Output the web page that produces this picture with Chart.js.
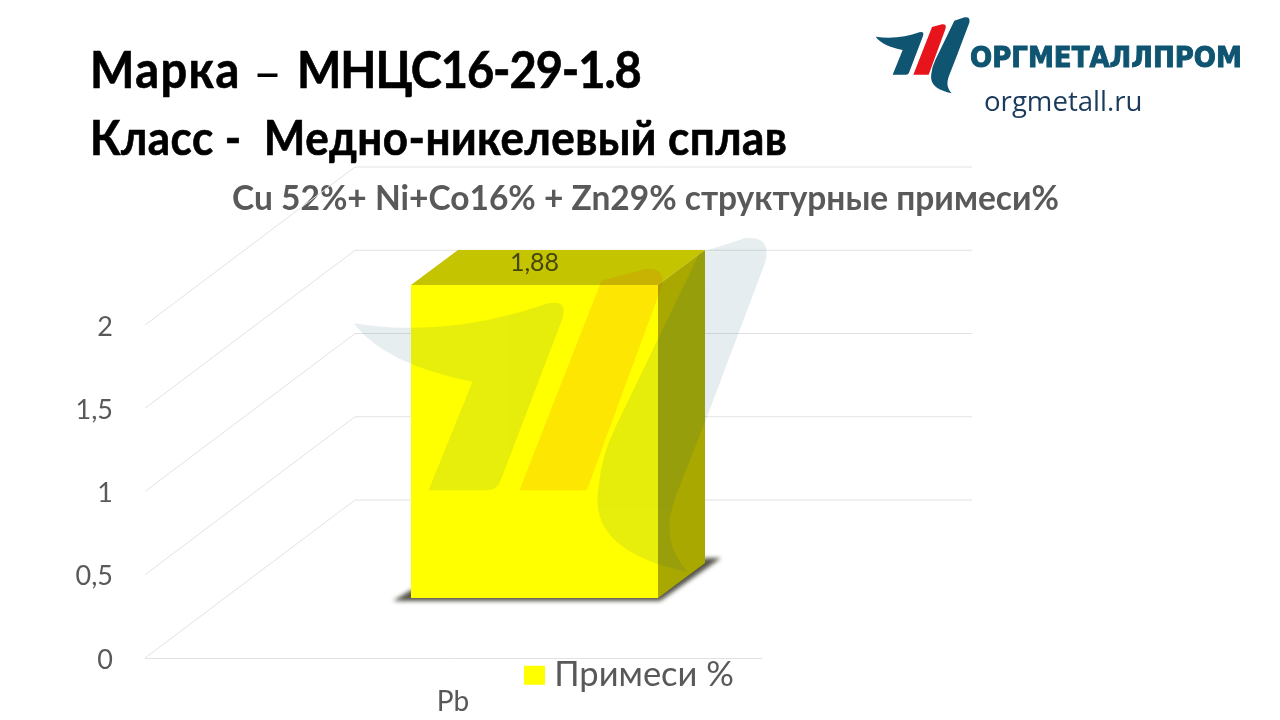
<!DOCTYPE html>
<html lang="ru">
<head>
<meta charset="utf-8">
<title>МНЦС16-29-1.8</title>
<script src="https://cdn.jsdelivr.net/npm/chart.js@4/dist/chart.umd.min.js"></script>
<style>
  body { margin: 0; background: #fff; width: 1280px; height: 720px; overflow: hidden; position: relative; font-family: Lato, "Open Sans", sans-serif; }
  canvas { position: absolute; left: 0; top: 0; }
  .head { position: absolute; font-weight: 700; color: #000; white-space: pre; line-height: 1; -webkit-text-stroke: 0.6px #000; transform: scaleY(1.08); transform-origin: 0 80%; }
  #overlay { position: absolute; left: 0; top: 0; pointer-events: none; }
</style>
</head>
<body>
<canvas id="chart" width="1280" height="720"></canvas>
<div class="head" style="left:90px;top:47px;font-size:47px;letter-spacing:1.4px">Марка</div>
<div class="head" style="left:253px;top:47px;font-size:50px;font-weight:400;-webkit-text-stroke:0">–</div>
<div class="head" style="left:297px;top:47px;font-size:47px;letter-spacing:-1.1px">МНЦС16-29-1.8</div>
<div class="head" style="left:90px;top:116px;font-size:44px;letter-spacing:0.45px">Класс -  Медно-никелевый сплав</div>
<svg id="overlay" width="1280" height="720" viewBox="0 0 1280 720">
  <defs>
    <path id="wing" d="M47 110 C95 118 140 110 178 97 Q194 93 189 108 L147 218 Q145 224 138 224 L98 224 L128 150 C90 142 62 130 47 110Z"/>
    <path id="stripe" d="M216 81 L246 73 Q262 72 256 88 L206 224 L160 224Z"/>
    <path id="blade" d="M283 62 L314 52 Q332 50 328 68 L288 174 L268 225 C258 250 262 265 275 280 C240 272 208 258 214 222 Q216 200 226 180Z"/>
  </defs>
  <g transform="translate(285 162) scale(1.465)" opacity="0.1">
    <use href="#wing" fill="#0f5470"/><use href="#blade" fill="#0f5470"/>
    <use href="#stripe" fill="#e8141c"/>
  </g>
  <g transform="translate(860 0) scale(0.3333)">
    <use href="#wing" fill="#0f5470"/><use href="#blade" fill="#0f5470"/>
    <use href="#stripe" fill="#e8141c"/>
  </g>
  <text x="970" y="67" textLength="272" lengthAdjust="spacingAndGlyphs" font-family="DejaVu Sans" font-weight="700" font-size="29" fill="#0f5470" stroke="#0f5470" stroke-width="1">ОРГМЕТАЛЛПРОМ</text>
  <text x="984" y="111" font-family="Open Sans" font-size="27.6" fill="#1b3a5c">orgmetall.ru</text>
</svg>
<script>
const categories = ['Pb'];
const seriesLabel = 'Примеси %';
const seriesValues = [1.88];
const chartTitle = 'Cu 52%+ Ni+Co16% + Zn29% структурные примеси%';
const yMax = 2;
const yStep = 0.5;

const textGray = '#595959';
const gridGray = '#e2e2e2';
const fontStack = 'Lato, "Open Sans", sans-serif';

function fmt(v) {
  return String(v).replace('.', ',');
}

// walls and box sides, the flat bar itself stays a normal chart.js bar
const box3d = {
  id: 'box3d',
  afterLayout(chart) {
    // title and legend sit where the slide has them, not where the layout puts them
    chart.titleBlock.left = 0;
    chart.titleBlock.right = 1291;
    const lg = chart.legend;
    const w = lg.width;
    lg.left = 522;
    lg.right = 522 + w;
    lg.top = 648;
    lg.bottom = 648 + lg.height;
  },
  beforeDatasetsDraw(chart) {
    const { ctx, chartArea, scales: { y } } = chart;
    const bar = chart.getDatasetMeta(0).data[0];
    const wallX = 210, wallY = -158, wallRight = 972;
    const shiftX = 81.5, shiftY = -60, depthX = 47, depthY = -35;

    ctx.save();
    ctx.strokeStyle = gridGray;
    ctx.lineWidth = 1;
    y.ticks.forEach((t) => {
      const py = y.getPixelForValue(t.value);
      ctx.beginPath();
      ctx.moveTo(chartArea.left, py);
      ctx.lineTo(chartArea.left + wallX, py + wallY);
      ctx.lineTo(wallRight, py + wallY);
      ctx.stroke();
    });

    const l = bar.x - bar.width / 2 + shiftX;
    const r = bar.x + bar.width / 2 + shiftX;
    const t = bar.y + shiftY;
    const b = bar.base + shiftY;

    // floor shadow
    ctx.save();
    ctx.filter = 'blur(2px)';
    ctx.fillStyle = '#55554a';
    ctx.beginPath();
    ctx.moveTo(l - 18, b + 3);
    ctx.lineTo(r + 2, b + 3);
    ctx.lineTo(r + depthX + 16, b + depthY - 5);
    ctx.lineTo(r + depthX, b + depthY - 5);
    ctx.lineTo(r, b - 8);
    ctx.lineTo(l, b - 8);
    ctx.closePath();
    ctx.fill();
    ctx.restore();

    // top face
    ctx.fillStyle = '#c4c400';
    ctx.beginPath();
    ctx.moveTo(l, t);
    ctx.lineTo(l + depthX, t + depthY);
    ctx.lineTo(r + depthX, t + depthY);
    ctx.lineTo(r, t);
    ctx.closePath();
    ctx.fill();

    // side face
    ctx.fillStyle = '#a8a800';
    ctx.beginPath();
    ctx.moveTo(r, t);
    ctx.lineTo(r + depthX, t + depthY);
    ctx.lineTo(r + depthX, b + depthY);
    ctx.lineTo(r, b);
    ctx.closePath();
    ctx.fill();
    ctx.restore();

    // front face is pushed back onto the floor
    ctx.save();
    ctx.translate(shiftX, shiftY);
  },
  afterDatasetsDraw(chart) {
    const { ctx } = chart;
    ctx.restore();
    const bar = chart.getDatasetMeta(0).data[0];
    ctx.save();
    ctx.font = '25px ' + fontStack;
    ctx.fillStyle = '#45450f';
    ctx.textAlign = 'center';
    ctx.textBaseline = 'middle';
    ctx.fillText(fmt(seriesValues[0]), bar.x + 81.5, bar.y - 60 - 22);
    ctx.restore();
  },
};

new Chart(document.getElementById('chart'), {
  type: 'bar',
  plugins: [box3d],
  data: {
    labels: categories,
    datasets: [{
      label: seriesLabel,
      data: seriesValues,
      backgroundColor: '#ffff00',
      borderWidth: 0,
      barPercentage: 0.401,
      categoryPercentage: 1,
    }],
  },
  options: {
    responsive: false,
    animation: false,
    layout: { padding: { top: 179, right: 519, left: 0, bottom: 0 } },
    plugins: {
      tooltip: { enabled: false },
      title: {
        display: true,
        text: chartTitle,
        color: textGray,
        font: { family: fontStack, size: 33.5, weight: 'bold' },
        padding: { top: 0, bottom: 105.8 },
      },
      legend: {
        position: 'chartArea',
        align: 'start',
        labels: {
          boxWidth: 5,
          boxHeight: 3,
          padding: 10,
          color: textGray,
          font: { family: fontStack, size: 34.5 },
          // legend text gap follows the font size, stroke widens the swatch instead
          generateLabels: (chart) => Chart.defaults.plugins.legend.labels.generateLabels(chart)
            .map((item) => ({ ...item, lineWidth: 16, strokeStyle: '#ffff00' })),
        },
      },
    },
    scales: {
      x: {
        grid: { display: false },
        border: { color: gridGray },
        afterFit(s) { s.height = 62; },
        ticks: {
          color: textGray,
          padding: 19,
          font: { family: fontStack, size: 28 },
        },
      },
      y: {
        min: 0,
        max: yMax,
        grid: { display: false },
        border: { display: false },
        afterFit(s) { s.width = 145; },
        ticks: {
          stepSize: yStep,
          padding: 24,
          labelOffset: 2,
          color: textGray,
          font: { family: fontStack, size: 27 },
          callback: (v) => fmt(v),
        },
      },
    },
  },
});
</script>
</body>
</html>
